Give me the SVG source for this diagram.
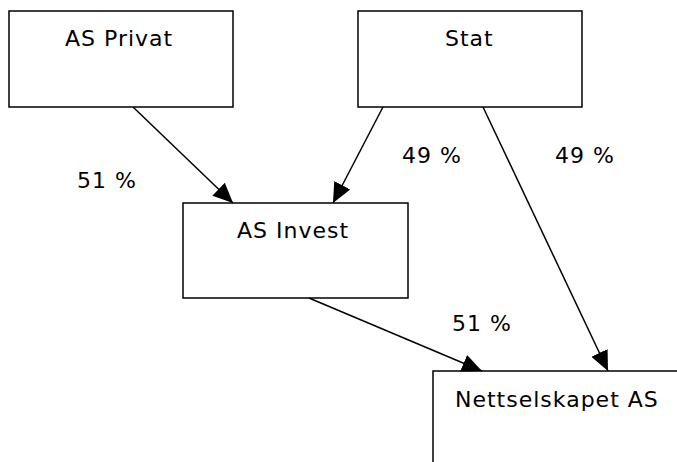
<svg xmlns="http://www.w3.org/2000/svg" width="677" height="462" viewBox="0 0 677 462">
<style>
.box{fill:#fff;stroke:#000;stroke-width:1.5}
.t{font-family:"DejaVu Sans",Verdana,sans-serif;font-size:22px;letter-spacing:1px;fill:#000}
.c{stroke:#000;stroke-width:1.5;fill:none;marker-end:url(#ah)}
</style>
<defs>
<marker id="ah" markerUnits="userSpaceOnUse" markerWidth="21" markerHeight="20" viewBox="0 0 21 20" refX="20" refY="10" orient="auto">
<path d="M0,1 L20,10 L0,19 Z" fill="#000"/>
</marker>
</defs>
<rect width="677" height="462" fill="#fff"/>
<g id="asprivat"><rect class="box" x="9" y="11" width="224" height="96"/><text class="t" x="65" y="46">AS Privat</text></g>
<g id="stat"><rect class="box" x="358" y="11" width="224" height="96"/><text class="t" x="445" y="46">Stat</text></g>
<g id="asinvest"><rect class="box" x="183" y="203" width="225" height="95"/><text class="t" x="237" y="238">AS Invest</text></g>
<g id="nettselskapet"><rect class="box" x="433" y="371" width="260" height="100"/><text class="t" x="455" y="407">Nettselskapet AS</text></g>
<g id="connectors">
<line class="c" x1="133" y1="107" x2="233" y2="203"/>
<line class="c" x1="383" y1="107" x2="333" y2="203"/>
<line class="c" x1="483" y1="107" x2="608" y2="371"/>
<line class="c" x1="309" y1="298" x2="482" y2="371"/>
<text class="t" x="77" y="188">51 %</text>
<text class="t" x="402" y="163">49 %</text>
<text class="t" x="555" y="163">49 %</text>
<text class="t" x="452" y="331">51 %</text>
</g>
</svg>
